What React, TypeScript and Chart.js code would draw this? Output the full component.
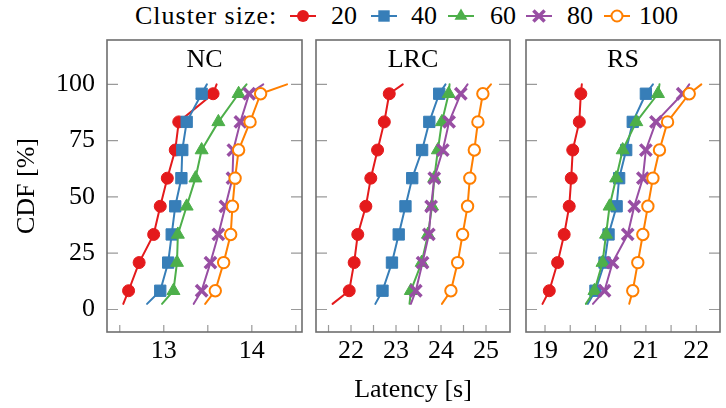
import React, { useEffect, useRef } from 'react';
import { Chart, registerables } from 'chart.js';

Chart.register(...registerables);

// ---------- data ----------
const CDF = [2.5, 8.33, 20.83, 33.33, 45.83, 58.33, 70.83, 83.33, 95.83, 100];
const SERIES_LABELS = ['20', '40', '60', '80', '100'];
const COLORS = ['#e41a1c', '#377eb8', '#4daf4a', '#984ea3', '#ff7f00'];

const NC_20 = [12.54, 12.6, 12.72, 12.885, 12.96, 13.04, 13.13, 13.17, 13.56, 13.6];
const NC_40 = [12.81, 12.96, 13.05, 13.09, 13.13, 13.2, 13.21, 13.26, 13.43, 13.49];
const NC_60 = [12.98, 13.11, 13.15, 13.16, 13.26, 13.36, 13.43, 13.62, 13.85, 13.94];
const NC_80 = [13.34, 13.43, 13.53, 13.62, 13.7, 13.78, 13.79, 13.87, 13.97, 14.13];
const NC_100 = [13.47, 13.585, 13.68, 13.76, 13.78, 13.81, 13.85, 13.98, 14.1, 14.4];

const LRC_20 = [21.59, 21.96, 22.07, 22.15, 22.33, 22.44, 22.59, 22.74, 22.85, 23.15];
const LRC_40 = [22.54, 22.7, 22.91, 23.06, 23.21, 23.36, 23.58, 23.74, 23.96, 24.1];
const LRC_60 = [23.3, 23.33, 23.57, 23.71, 23.8, 23.85, 23.93, 24.02, 24.17, 24.19];
const LRC_80 = [23.33, 23.44, 23.59, 23.73, 23.78, 23.85, 24.04, 24.18, 24.44, 24.59];
const LRC_100 = [24.02, 24.22, 24.37, 24.48, 24.59, 24.64, 24.74, 24.82, 24.93, 25.11];

const RS_20 = [18.95, 19.085, 19.25, 19.38, 19.48, 19.52, 19.55, 19.68, 19.71, 19.73];
const RS_40 = [19.85, 20.0, 20.18, 20.26, 20.42, 20.47, 20.61, 20.74, 21.0, 21.14];
const RS_60 = [19.81, 19.98, 20.14, 20.21, 20.28, 20.41, 20.54, 20.81, 21.24, 21.27];
const RS_80 = [19.95, 20.18, 20.34, 20.64, 20.77, 20.94, 21.0, 21.2, 21.73, 21.86];
const RS_100 = [20.67, 20.74, 20.84, 20.94, 21.04, 21.14, 21.27, 21.43, 21.86, 22.1];

const Y_TICKS = [0, 25, 50, 75, 100];
const NC_XTICKS = [12.5, 13, 13.5, 14, 14.5];
const LRC_XTICKS = [21.5, 22, 22.5, 23, 23.5, 24, 24.5, 25];
const RS_XTICKS = [19, 19.5, 20, 20.5, 21, 21.5, 22];

const PANEL_TITLES = ['NC', 'LRC', 'RS'];
const PANEL_SERIES = [
  [NC_20, NC_40, NC_60, NC_80, NC_100],
  [LRC_20, LRC_40, LRC_60, LRC_80, LRC_100],
  [RS_20, RS_40, RS_60, RS_80, RS_100],
];
const PANEL_XTICKS = [NC_XTICKS, LRC_XTICKS, RS_XTICKS];
const PANEL_XRANGE = [
  [12.355, 14.57],
  [21.222, 25.533],
  [18.623, 22.47],
];
const Y_RANGE = [-10, 119.7];

// ---------- style ----------
const FONT_FAMILY = '"Liberation Serif", "Times New Roman", serif';
const FONT_SIZE = 26;
const W = 726;
const H = 408;
const PANEL_BOX = [
  { left: 0, width: 310, padL: 0, padR: 8 },
  { left: 310, width: 206, padL: 6, padR: 6 },
  { left: 516, width: 210, padL: 10, padR: 6 },
];
const POINT_STYLES: any[] = ['circle', 'rect', 'triangle', 'crossRot', 'circle'];
const POINT_RADII = [6, 8, 7.5, 8, 5.7];
const POINT_BORDER = [1, 1, 1, 3.5, 2];

const framePlugin = {
  id: 'frame',
  beforeDatasetsDraw(chart: any, _args: any, opts: any) {
    const { ctx, chartArea: a, scales } = chart;
    ctx.save();
    ctx.strokeStyle = '#9a9a9a';
    ctx.lineWidth = 1.2;
    ctx.beginPath();
    for (const v of Y_TICKS) {
      const y = scales.y.getPixelForValue(v);
      ctx.moveTo(a.left, y);
      ctx.lineTo(a.left + 11, y);
      ctx.moveTo(a.right - 11, y);
      ctx.lineTo(a.right, y);
    }
    for (const v of opts.xTicks) {
      const x = scales.x.getPixelForValue(v);
      ctx.moveTo(x, a.bottom);
      ctx.lineTo(x, a.bottom - 7);
    }
    ctx.stroke();
    ctx.fillStyle = '#000';
    ctx.font = `${FONT_SIZE}px ${FONT_FAMILY}`;
    ctx.textAlign = 'center';
    ctx.textBaseline = 'middle';
    ctx.fillText(opts.title, (a.left + a.right) / 2, a.top + 20);
    ctx.restore();
  },
  afterDraw(chart: any) {
    const { ctx, chartArea: a } = chart;
    ctx.save();
    ctx.strokeStyle = '#6e6e6e';
    ctx.lineWidth = 1.6;
    ctx.strokeRect(a.left, a.top, a.right - a.left, a.bottom - a.top);
    ctx.restore();
  },
};

function makeConfig(p: number): any {
  const box = PANEL_BOX[p];
  const font = { family: FONT_FAMILY, size: FONT_SIZE };
  const datasets = PANEL_SERIES[p].map((xs, i) => ({
    label: SERIES_LABELS[i],
    data: xs.map((x, k) => ({ x, y: CDF[k] })),
    borderColor: COLORS[i],
    borderWidth: 2,
    borderJoinStyle: 'round',
    borderCapStyle: 'round',
    pointStyle: POINT_STYLES[i],
    pointRadius: CDF.map((_, k) => (k === 0 || k === CDF.length - 1 ? 0 : POINT_RADII[i])),
    pointBackgroundColor: i === 4 ? '#ffffff' : COLORS[i],
    pointBorderColor: COLORS[i],
    pointBorderWidth: POINT_BORDER[i],
    showLine: true,
    fill: false,
    tension: 0,
    order: 4 - i,
  }));
  return {
    type: 'scatter',
    data: { datasets },
    plugins: [framePlugin],
    options: {
      animation: false,
      responsive: false,
      devicePixelRatio: 1,
      layout: { padding: { left: box.padL, right: box.padR, top: 40, bottom: 0 } },
      plugins: {
        legend: { display: false },
        tooltip: { enabled: false },
        frame: { title: PANEL_TITLES[p], xTicks: PANEL_XTICKS[p] },
      },
      scales: {
        x: {
          type: 'linear',
          min: PANEL_XRANGE[p][0],
          max: PANEL_XRANGE[p][1],
          grid: { display: false, drawTicks: false },
          border: { display: false },
          afterBuildTicks: (s: any) => {
            s.ticks = PANEL_XTICKS[p].map((v) => ({ value: v }));
          },
          afterFit: (s: any) => {
            s.height = 76;
          },
          ticks: {
            autoSkip: false,
            maxRotation: 0,
            padding: 4,
            color: '#000',
            font,
            callback: (v: number) => (Math.abs(v - Math.round(v)) < 1e-6 ? String(Math.round(v)) : ''),
          },
          title: {
            display: p === 1,
            text: 'Latency [s]',
            color: '#000',
            font,
            padding: { top: 0, bottom: 2 },
          },
        },
        y: {
          type: 'linear',
          display: p === 0,
          min: Y_RANGE[0],
          max: Y_RANGE[1],
          grid: { display: false, drawTicks: false },
          border: { display: false },
          afterBuildTicks: (s: any) => {
            s.ticks = Y_TICKS.map((v) => ({ value: v }));
          },
          afterFit: (s: any) => {
            s.width = p === 0 ? 107 : 0;
          },
          ticks: { padding: 12, color: '#000', font },
          title: {
            display: p === 0,
            text: 'CDF [%]',
            color: '#000',
            font,
            padding: { top: 12, bottom: 0 },
          },
        },
      },
    },
  };
}

function Panel({ p }: { p: number }) {
  const ref = useRef<HTMLCanvasElement>(null);
  useEffect(() => {
    const chart = new Chart(ref.current as HTMLCanvasElement, makeConfig(p));
    return () => chart.destroy();
  }, [p]);
  const box = PANEL_BOX[p];
  return (
    <canvas
      ref={ref}
      width={box.width}
      height={H}
      style={{ position: 'absolute', left: box.left, top: 0, width: box.width, height: H }}
    />
  );
}

const LEGEND_MARK_X = [303, 384, 461, 539, 617];
const LEGEND_TEXT_X = [331, 411, 490, 567, 639];

function Marker({ i }: { i: number }) {
  const c = COLORS[i];
  const cx = 15;
  const cy = 10;
  let m: any = null;
  if (i === 0) m = <circle cx={cx} cy={cy} r={6} fill={c} />;
  if (i === 1) m = <rect x={cx - 5.7} y={cy - 5.7} width={11.4} height={11.4} fill={c} />;
  if (i === 2)
    m = (
      <polygon
        points={`${cx},${cy - 7.5} ${cx + 6.5},${cy + 3.75} ${cx - 6.5},${cy + 3.75}`}
        fill={c}
      />
    );
  if (i === 3)
    m = (
      <g stroke={c} strokeWidth={3.5}>
        <line x1={cx - 5.6} y1={cy - 5.6} x2={cx + 5.6} y2={cy + 5.6} />
        <line x1={cx - 5.6} y1={cy + 5.6} x2={cx + 5.6} y2={cy - 5.6} />
      </g>
    );
  if (i === 4) m = <circle cx={cx} cy={cy} r={5.5} fill="#fff" stroke={c} strokeWidth={2} />;
  return (
    <svg width={30} height={20} style={{ position: 'absolute', left: LEGEND_MARK_X[i] - 15, top: 6 }}>
      <line x1={2} y1={cy} x2={28} y2={cy} stroke={c} strokeWidth={2} />
      {m}
    </svg>
  );
}

export default function App() {
  const textStyle: any = {
    position: 'absolute',
    top: 0,
    height: 32,
    lineHeight: '32px',
    fontFamily: FONT_FAMILY,
    fontSize: FONT_SIZE,
    color: '#000',
    whiteSpace: 'nowrap',
  };
  return (
    <div
      style={{
        position: 'fixed',
        left: 0,
        top: 0,
        width: W,
        height: H,
        background: '#fff',
        overflow: 'hidden',
      }}
    >
      <span style={{ ...textStyle, left: 135, letterSpacing: '1px' }}>Cluster size:</span>
      {SERIES_LABELS.map((lab, i) => (
        <React.Fragment key={lab}>
          <Marker i={i} />
          <span style={{ ...textStyle, left: LEGEND_TEXT_X[i] }}>{lab}</span>
        </React.Fragment>
      ))}
      {[0, 1, 2].map((p) => (
        <Panel key={p} p={p} />
      ))}
    </div>
  );
}
